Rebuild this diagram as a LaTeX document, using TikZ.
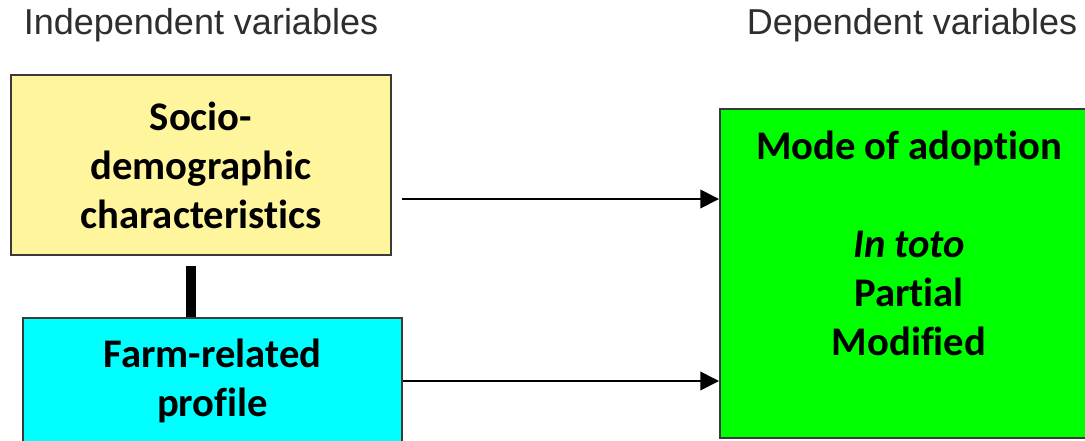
\documentclass[tikz,border=0pt]{standalone}
\usepackage{fontspec}
\setmainfont{Liberation Sans}
\newfontfamily\boxfont[Ligatures=NoCommon]{Carlito}
\usetikzlibrary{positioning,arrows.meta,calc}
\definecolor{sociofill}{HTML}{FFF59D}
\definecolor{farmfill}{HTML}{00FFFF}
\definecolor{modefill}{HTML}{00FF00}
\definecolor{edgegray}{HTML}{3A3A3A}
\definecolor{headgray}{HTML}{2E2E2E}

\begin{document}
\begin{tikzpicture}[x=0.75pt,y=-0.75pt,>=Latex,
  varbox/.style={draw=edgegray,line width=1.5pt,align=center,
    font=\boxfont\bfseries\fontsize{30.5}{36.8}\selectfont,inner sep=0pt},
  heading/.style={text=headgray,font=\fontsize{27}{30}\selectfont},
  arr/.style={-{Triangle[length=14pt,width=14pt]},line width=1.3pt}]
\useasboundingbox (0,0) rectangle (1085,440);
\clip (0,0) rectangle (1085,440);
% ---- column headings ----
\node[heading] (indep) at (201,25) {Independent variables};
\node[heading] (dep) at (912,25) {Dependent variables};
% ---- independent variables ----
\node[varbox,fill=sociofill,minimum width=285pt,minimum height=135pt] (socio) at (201,165)
  {Socio-\\demographic\\characteristics};
\node[varbox,fill=farmfill,minimum width=284pt,minimum height=94pt] (farm) at (212.5,381)
  {Farm-related\\profile};
% ---- dependent variable ----
\node[varbox,fill=modefill,minimum width=283.5pt,minimum height=247pt] (adopt) at (909,273.5) {};
\node[varbox,draw=none,anchor=north] (modes) at (909,130)
  {Mode of adoption\\[36.5pt]\textit{In toto}\\Partial\\Modified};
% ---- links ----
\coordinate (link) at ($(socio.south)+(-10,10)$);
\draw[line width=7.5pt] (link) -- (link |- farm.north);
\coordinate (s1) at ($(socio.east)+(10,34)$);
\draw[arr] (s1) -- (s1 -| adopt.west);
\draw[arr] (farm.east) -- (farm.east -| adopt.west);
\end{tikzpicture}
\end{document}
